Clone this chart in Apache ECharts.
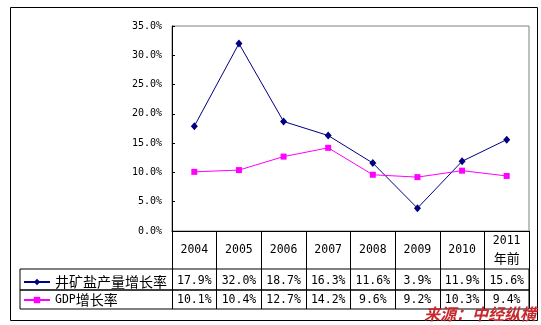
<!DOCTYPE html>
<html>
<head>
<meta charset="utf-8">
<script src="https://cdn.jsdelivr.net/npm/echarts@6/dist/echarts.min.js"></script>
<style>
  html, body { margin: 0; padding: 0; background: #fff; }
  #chart { width: 541px; height: 325px; }
</style>
</head>
<body>
<div id="chart"></div>
<script>
// Years shown in the header row of the data table
const categories = ['2004', '2005', '2006', '2007', '2008', '2009', '2010', '2011\n年前'];
// Growth rates, in percent
const saltGrowth = [17.9, 32.0, 18.7, 16.3, 11.6, 3.9, 11.9, 15.6];
const gdpGrowth = [10.1, 10.4, 12.7, 14.2, 9.6, 9.2, 10.3, 9.4];
const seriesNames = ['井矿盐产量增长率', 'GDP增长率'];
// Value axis ticks
const yMin = 0, yMax = 35, yStep = 5;
const sourceText = '来源：中经纵横';

const MONO = '"DejaVu Sans Mono", "Noto Sans CJK SC", monospace';
const CJK = '"Noto Sans CJK SC", sans-serif';
const pct = v => v.toFixed(1) + '%';

const chart = echarts.init(document.getElementById('chart'), null, { renderer: 'canvas' });

chart.setOption({
  animation: false,
  backgroundColor: '#ffffff',
  grid: [
    // plot area
    { left: 172, top: 26, right: 12, bottom: 94, show: true, borderColor: '#808080', borderWidth: 1, backgroundColor: 'transparent', containLabel: false },
    // table row 1
    { left: 20, top: 269, right: 12, height: 21, show: true, borderColor: '#000', borderWidth: 1, backgroundColor: 'transparent' },
    // table row 2
    { left: 20, top: 290, right: 12, height: 19, show: true, borderColor: '#000', borderWidth: 1, backgroundColor: 'transparent' }
  ],
  legend: {
    orient: 'vertical',
    left: 23,
    top: 275,
    padding: 0,
    itemGap: 4,
    itemWidth: 26,
    itemHeight: 8,
    data: seriesNames,
    formatter: name => name.replace('GDP', '{m|GDP}'),
    textStyle: {
      fontFamily: CJK, fontSize: 14, color: '#000', lineHeight: 14,
      rich: { m: { fontFamily: MONO, fontSize: 11.5, color: '#000' } }
    }
  },
  xAxis: [
    {
      type: 'category', gridIndex: 0, data: categories,
      axisLine: { lineStyle: { color: '#000', width: 1 } },
      axisTick: { show: true, length: 78, lineStyle: { color: '#000' } },
      axisLabel: {
        interval: 0, margin: 19, verticalAlign: 'middle', color: '#000',
        fontFamily: MONO, fontSize: 11.5,
        formatter: v => {
          const parts = v.split('\n');
          if (parts.length === 1) return v;
          return '{y|' + parts[0] + '}\n{c|' + parts[1] + '}';
        },
        rich: {
          y: { fontFamily: MONO, fontSize: 11.5, lineHeight: 17, color: '#000' },
          c: { fontFamily: CJK, fontSize: 13, lineHeight: 17, color: '#000' }
        }
      }
    },
    {
      type: 'category', gridIndex: 0, data: categories, position: 'bottom', offset: 38,
      axisLine: { show: false }, axisTick: { show: false },
      axisLabel: {
        interval: 0, margin: 12.5, verticalAlign: 'middle', color: '#000',
        fontFamily: MONO, fontSize: 11.5,
        formatter: (v, i) => pct(saltGrowth[i])
      }
    },
    {
      type: 'category', gridIndex: 0, data: categories, position: 'bottom', offset: 38,
      axisLine: { show: false }, axisTick: { show: false },
      axisLabel: {
        interval: 0, margin: 31.5, verticalAlign: 'middle', color: '#000',
        fontFamily: MONO, fontSize: 11.5,
        formatter: (v, i) => pct(gdpGrowth[i])
      }
    },
    { type: 'value', gridIndex: 1, show: false },
    { type: 'value', gridIndex: 2, show: false }
  ],
  yAxis: [
    {
      type: 'value', gridIndex: 0, min: yMin, max: yMax, interval: yStep,
      axisLine: { show: true, lineStyle: { color: '#000', width: 1 } },
      axisTick: { show: true, inside: true, length: 3, lineStyle: { color: '#000' } },
      splitLine: { show: false },
      axisLabel: { margin: 10, color: '#000', fontFamily: MONO, fontSize: 10, formatter: v => pct(v) }
    },
    { type: 'value', gridIndex: 1, show: false },
    { type: 'value', gridIndex: 2, show: false }
  ],
  series: [
    {
      name: seriesNames[0], type: 'line', xAxisIndex: 0, yAxisIndex: 0,
      data: saltGrowth,
      symbol: 'diamond', symbolSize: [7, 8], showAllSymbol: true,
      lineStyle: { color: '#000080', width: 1 },
      itemStyle: { color: '#000080' }
    },
    {
      name: seriesNames[1], type: 'line', xAxisIndex: 0, yAxisIndex: 0,
      data: gdpGrowth,
      symbol: 'rect', symbolSize: 6, showAllSymbol: true,
      lineStyle: { color: '#ff00ff', width: 1 },
      itemStyle: { color: '#ff00ff' }
    }
  ],
  graphic: [
    {
      type: 'rect', silent: true,
      shape: { x: 10.5, y: 7.5, width: 527, height: 313 },
      style: { fill: 'none', stroke: '#000', lineWidth: 1 }
    },
    {
      type: 'text', silent: true, z: 100,
      style: {
        text: sourceText, x: 536, y: 322, align: 'right', verticalAlign: 'bottom',
        font: 'italic bold 16px "Noto Sans CJK SC", sans-serif', fill: '#c62a2e'
      }
    }
  ]
});
</script>
</body>
</html>
